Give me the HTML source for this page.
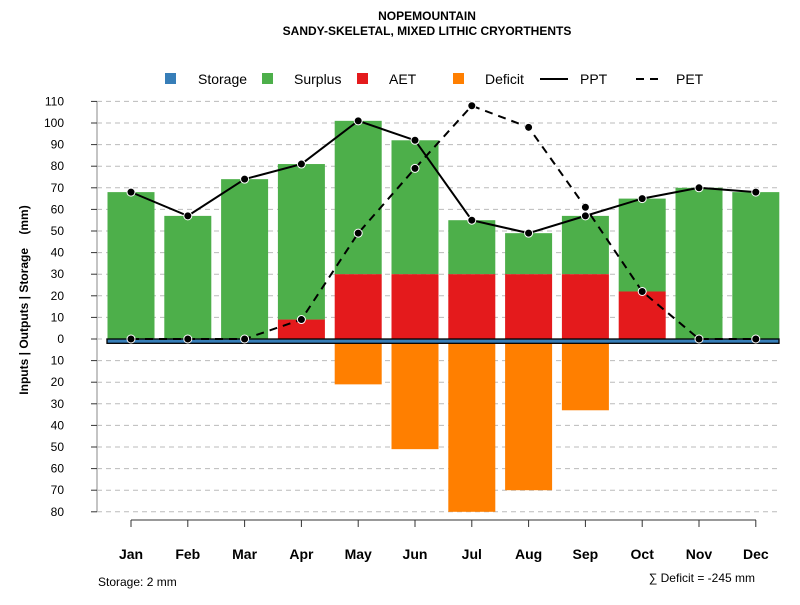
<!DOCTYPE html>
<html><head><meta charset="utf-8"><style>
body{margin:0;background:#fff}
svg{font-family:"Liberation Sans",sans-serif}
</style></head><body>
<svg id="c" width="800" height="600" xmlns="http://www.w3.org/2000/svg">
<text x="427" y="20" text-anchor="middle" font-size="12" font-weight="bold">NOPEMOUNTAIN</text>
<text x="427" y="35" text-anchor="middle" font-size="12" font-weight="bold">SANDY-SKELETAL, MIXED LITHIC CRYORTHENTS</text>
<g font-size="14">
<rect x="165" y="73" width="11" height="11" fill="#377eb8"/>
<text x="198" y="84">Storage</text>
<rect x="262" y="73" width="11" height="11" fill="#4daf4a"/>
<text x="294" y="84">Surplus</text>
<rect x="357" y="73" width="11" height="11" fill="#e41a1c"/>
<text x="389" y="84">AET</text>
<rect x="453" y="73" width="11" height="11" fill="#ff7f00"/>
<text x="485" y="84">Deficit</text>
<line x1="540" y1="79" x2="568" y2="79" stroke="#000" stroke-width="2"/>
<text x="580" y="84">PPT</text>
<line x1="636" y1="79" x2="664" y2="79" stroke="#000" stroke-width="2" stroke-dasharray="8,6"/>
<text x="676" y="84">PET</text>
</g>
<text transform="translate(28,300) rotate(-90)" text-anchor="middle" font-size="12" font-weight="bold">Inputs | Outputs | Storage&#160;&#160;&#160;&#160;(mm)</text>
<text x="98" y="586" font-size="12">Storage: 2 mm</text>
<text x="755" y="582" text-anchor="end" font-size="12">∑ Deficit = -245 mm</text>
<g id="plot"></g>
</svg>
<script>
const months=["Jan","Feb","Mar","Apr","May","Jun","Jul","Aug","Sep","Oct","Nov","Dec"];
const ppt=[68,57,74,81,101,92,55,49,57,65,70,68];
const pet=[0,0,0,9,49,79,108,98,61,22,0,0];
const aet=[0,0,0,9,30,30,30,30,30,22,0,0];
const surplus=[68,57,74,72,71,62,25,19,27,43,70,68];
const deficit=[0,0,0,0,21,51,80,70,33,0,0,0];
const storageVal=2;
const yTicksUp=[0,10,20,30,40,50,60,70,80,90,100,110];
const yTicksDown=[10,20,30,40,50,60,70,80];
const NS="http://www.w3.org/2000/svg";
const g=document.getElementById('plot');
const y0=339,k=2.16;
const yU=v=>y0-v*k;
const yD=v=>y0+v*k;
const xc=i=>131+i*56.8;
const bw=47;
function mk(t,a,p){const e=document.createElementNS(NS,t);for(const q in a)e.setAttribute(q,a[q]);(p||g).appendChild(e);return e;}
mk('line',{x1:97,y1:yU(110),x2:97,y2:yD(80),stroke:'#888'});
yTicksUp.forEach(v=>{
 const gl=mk('line',{x1:97,x2:780,y1:yU(v),y2:yU(v),stroke:'#bbb','stroke-dasharray':'5,4'});
 
 
 mk('line',{x1:91,x2:97,y1:yU(v),y2:yU(v),stroke:'#333'});
 const t=mk('text',{x:64,y:yU(v)+4,'text-anchor':'end','font-size':12});t.textContent=v;
 
 
});
yTicksDown.forEach(v=>{
 const gl=mk('line',{x1:97,x2:780,y1:yD(v),y2:yD(v),stroke:'#bbb','stroke-dasharray':'5,4'});
 
 
 mk('line',{x1:91,x2:97,y1:yD(v),y2:yD(v),stroke:'#333'});
 const t=mk('text',{x:64,y:yD(v)+4,'text-anchor':'end','font-size':12});t.textContent=v;
 
 
});
months.forEach((m,i)=>{
 const x=xc(i)-bw/2;
 const s=mk('rect',{x:x,y:yU(aet[i]+surplus[i]),width:bw,height:surplus[i]*k,fill:'#4daf4a'});
 
 
 const a=mk('rect',{x:x,y:yU(aet[i]),width:bw,height:aet[i]*k,fill:'#e41a1c'});
 
 
 const d=mk('rect',{x:x,y:yD(storageVal),width:bw,height:Math.max(0,(deficit[i]-storageVal))*k,fill:'#ff7f00'});
 
 
 mk('line',{x1:xc(i),x2:xc(i),y1:520,y2:527,stroke:'#333'});
 const t=mk('text',{x:xc(i),y:559,'text-anchor':'middle','font-size':14,'font-weight':'bold'});t.textContent=m;
 
 
});
mk('line',{x1:131,x2:756,y1:520,y2:520,stroke:'#333'});
const st=mk('rect',{x:107,y:y0,width:672,height:storageVal*k,fill:'#377eb8',stroke:'#000','stroke-width':1.3});


function line(arr,dash,name){
 const p=mk('polyline',{points:arr.map((v,i)=>xc(i)+','+yU(v)).join(' '),fill:'none',stroke:'#000','stroke-width':2,'stroke-dasharray':dash});
 
 
 arr.forEach((v,i)=>{const c=mk('circle',{cx:xc(i),cy:yU(v),r:4,fill:'#000',stroke:'#fff','stroke-width':1});
 
 });
}
line(pet,'8,6','pet');
line(ppt,'none','ppt');
</script>
</body></html>
